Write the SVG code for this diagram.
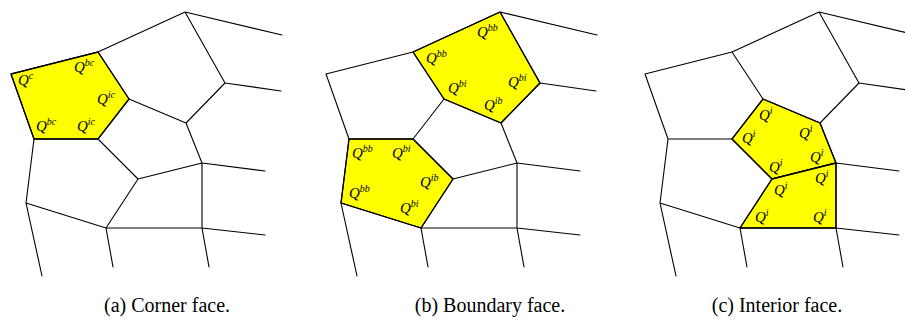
<svg xmlns="http://www.w3.org/2000/svg" xmlns:xlink="http://www.w3.org/1999/xlink" width="905" height="320" viewBox="0 0 905 320">
<style>
.mesh{fill:none;stroke:#000;stroke-width:1.1;stroke-linejoin:round;stroke-linecap:round}
.face{fill:#ffff00;stroke:#000;stroke-width:1.3;stroke-linejoin:round}
.q{font-family:"Liberation Serif","Times New Roman",serif;font-style:italic;font-size:15px;fill:#000}
.q tspan{font-size:10px}
.cap{font-family:"Liberation Serif","Times New Roman",serif;font-size:20px;fill:#000;text-anchor:middle}
</style>
<defs>
<path id="mesh" class="mesh" d="M185,12 L282,35 M185,12 L98,52 L11,74 M185,12 L225,83 L281,91 M225,83 L186,123 M98,52 L129,99 L186,123 M11,74 L34,139 L98,139 L129,99 M186,123 L202,163 L265,171 M98,139 L138,179 L202,163 M34,139 L26,203 L106,228 L202,228 L265,235 M138,179 L106,228 M202,163 L202,228 M26,203 L42,276 M106,228 L113,267 M202,228 L209,267"/>
</defs>

<!-- Panel (a) -->
<g id="face-a-corner">
<polygon class="face" points="98,52 129,99 98,139 34,139 11,74"/>
</g>
<!-- Panel (b) -->
<g id="face-b-top">
<polygon class="face" transform="translate(315,0)" points="185,12 225,83 186,123 129,99 98,52"/>
</g>
<g id="face-b-left">
<polygon class="face" transform="translate(315,0)" points="34,139 98,139 138,179 106,228 26,203"/>
</g>
<!-- Panel (c) -->
<g id="face-c-upper">
<polygon class="face" transform="translate(634,0)" points="129,99 186,123 202,163 138,179 98,139"/>
</g>
<g id="face-c-lower">
<polygon class="face" transform="translate(634,0)" points="138,179 202,163 202,228 106,228"/>
</g>

<g id="connectors">
<use xlink:href="#mesh" href="#mesh"/>
<use xlink:href="#mesh" href="#mesh" x="315"/>
<use xlink:href="#mesh" href="#mesh" x="634"/>
</g>

<g id="labels-a">
<text class="q" x="18" y="85">Q<tspan dy="-6">c</tspan></text>
<text class="q" x="74" y="72">Q<tspan dy="-6">bc</tspan></text>
<text class="q" x="97" y="104">Q<tspan dy="-6">ic</tspan></text>
<text class="q" x="36" y="131">Q<tspan dy="-6">bc</tspan></text>
<text class="q" x="77" y="131">Q<tspan dy="-6">ic</tspan></text>
</g>
<g id="labels-b">
<text class="q" x="477" y="37">Q<tspan dy="-6">bb</tspan></text>
<text class="q" x="426" y="63">Q<tspan dy="-6">bb</tspan></text>
<text class="q" x="448" y="93">Q<tspan dy="-6">bi</tspan></text>
<text class="q" x="508" y="87">Q<tspan dy="-6">bi</tspan></text>
<text class="q" x="484" y="110">Q<tspan dy="-6">ib</tspan></text>
<text class="q" x="352" y="158">Q<tspan dy="-6">bb</tspan></text>
<text class="q" x="392" y="158">Q<tspan dy="-6">bi</tspan></text>
<text class="q" x="420" y="187">Q<tspan dy="-6">ib</tspan></text>
<text class="q" x="349" y="198">Q<tspan dy="-6">bb</tspan></text>
<text class="q" x="400" y="213">Q<tspan dy="-6">bi</tspan></text>
</g>
<g id="labels-c">
<text class="q" x="759" y="120">Q<tspan dy="-6">i</tspan></text>
<text class="q" x="742" y="143">Q<tspan dy="-6">i</tspan></text>
<text class="q" x="799" y="138">Q<tspan dy="-6">i</tspan></text>
<text class="q" x="769" y="172">Q<tspan dy="-6">i</tspan></text>
<text class="q" x="810" y="162">Q<tspan dy="-6">i</tspan></text>
<text class="q" x="815" y="183">Q<tspan dy="-6">i</tspan></text>
<text class="q" x="774" y="195">Q<tspan dy="-6">i</tspan></text>
<text class="q" x="755" y="222">Q<tspan dy="-6">i</tspan></text>
<text class="q" x="813" y="222">Q<tspan dy="-6">i</tspan></text>
</g>

<g id="captions">
<text class="cap" x="167" y="312">(a) Corner face.</text>
<text class="cap" x="490" y="312">(b) Boundary face.</text>
<text class="cap" x="777" y="312">(c) Interior face.</text>
</g>
</svg>
